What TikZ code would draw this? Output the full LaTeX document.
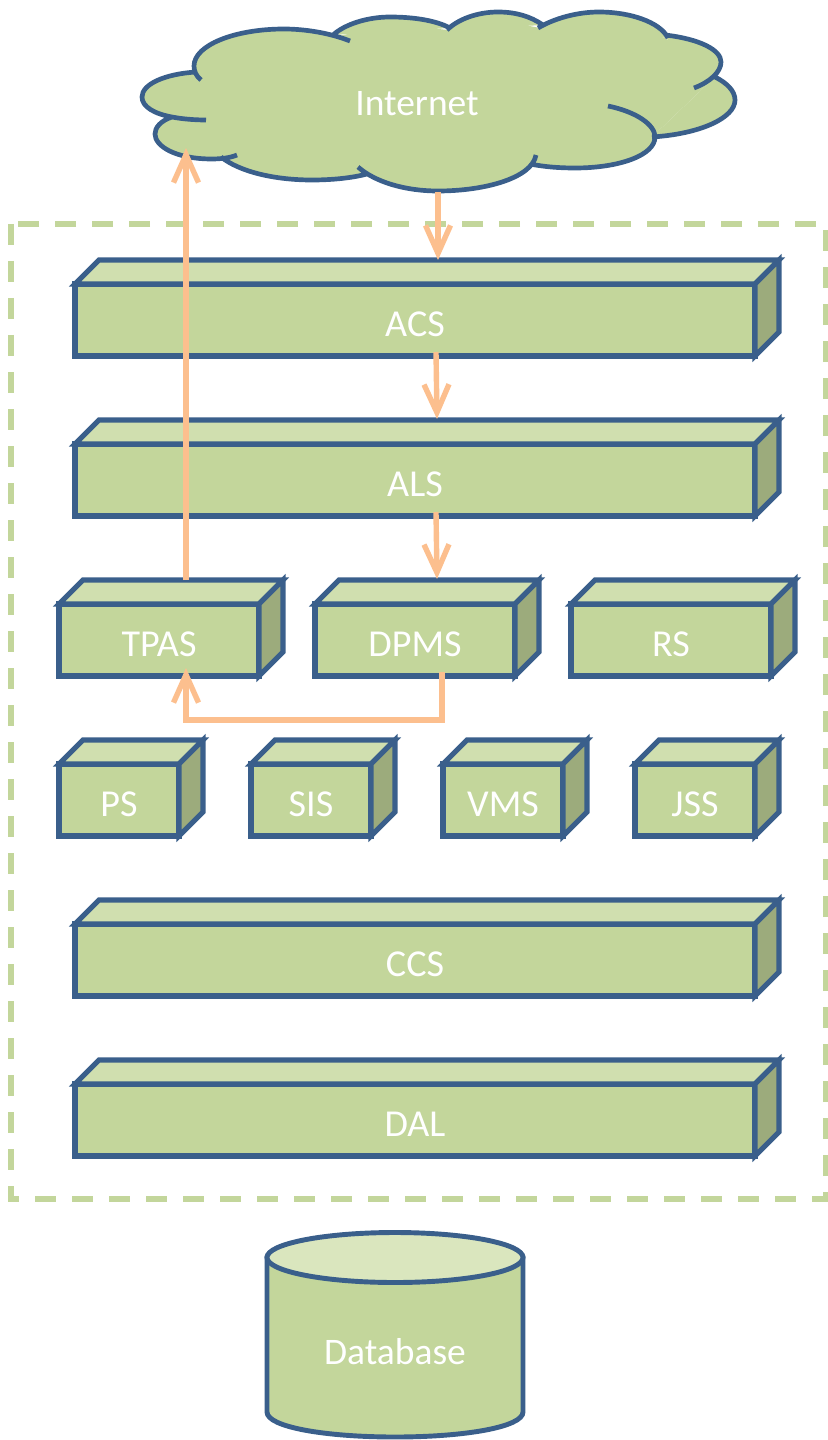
\documentclass[tikz,border=0pt]{standalone}
\usepackage{fontspec}
\setmainfont{Carlito}
\usepackage{tikz}
\usetikzlibrary{calc,arrows.meta,positioning}
\definecolor{cubeline}{HTML}{3A5F8B}
\definecolor{cubefront}{HTML}{C3D69B}
\definecolor{cubetopc}{HTML}{D0DFAF}
\definecolor{cubesidec}{HTML}{9CAB7C}
\definecolor{dbtopc}{HTML}{DAE6BE}
\definecolor{flowc}{HTML}{FCBF8E}
\tikzset{
	cubebox/.style={draw=cubeline,fill=cubefront,line width=4.3pt,rectangle,inner sep=0pt,outer sep=0pt,minimum height=72*0.03cm,text=white,text height=28pt,text depth=0pt,font=\fontsize{32.5}{32.5}\selectfont},
	cubetop/.style={draw=cubeline,fill=cubetopc,line width=4.3pt},
	cubeside/.style={draw=cubeline,fill=cubesidec,line width=4.3pt},
	bigtext/.style={text=white,inner sep=0pt,font=\fontsize{32}{32}\selectfont},
	flow/.style={draw=flowc,line width=4.6pt,-{Rectangle[length=0.1pt,width=0.1pt,sep=0pt] Straight Barb[length=8.4mm,width=7.5mm]}},
}
\begin{document}
\begin{tikzpicture}[x=0.03cm,y=-0.03cm]
	\useasboundingbox (0,0) rectangle (827,1440);
	
	% cloud
	\def\cloudlobes{
		(196,72) .. controls (165,74) and (142,84) .. (142,97) .. controls (142,107) and (155,114) .. (172,117) .. controls (182,119) and (195,120) .. (206,120)
		(172,117) .. controls (160,121) and (155,128) .. (155,134) .. controls (155,146) and (175,159) .. (212,159) .. controls (220,159) and (230,158) .. (237,155)
		(221,157) .. controls (240,172) and (275,180) .. (312,180) .. controls (332,180) and (352,178) .. (367,174)
		(358,167) .. controls (375,182) and (405,191) .. (438,191) .. controls (485,191) and (532,178) .. (536,155)
		(530,164) .. controls (545,167) and (560,168) .. (575,168) .. controls (620,168) and (655,155) .. (655,137) .. controls (655,125) and (637,112) .. (608,106)
		(652,137) .. controls (700,134) and (735,118) .. (735,100) .. controls (735,91) and (727,83) .. (715,77)
		(694,88) .. controls (710,82) and (721,72) .. (721,62) .. controls (721,50) and (700,39) .. (665,35)
		(668,38) .. controls (660,22) and (630,12) .. (599,12) .. controls (578,12) and (555,18) .. (538,28)
		(543,25) .. controls (530,16) and (515,12) .. (498,12) .. controls (478,12) and (458,19) .. (447,30)
		(450,28) .. controls (435,20) and (412,17) .. (390,17) .. controls (368,17) and (345,24) .. (333,35)
		(350,41) .. controls (330,33) and (305,29) .. (284,29) .. controls (235,29) and (194,45) .. (194,66) .. controls (194,71) and (196,76) .. (201,80)
	}
	\fill[cubefront] \cloudlobes;
	\fill[cubefront] (200,78) -- (172,117) -- (221,157) -- (312,172) -- (380,176) -- (438,185) -- (530,164) -- (652,137) -- (715,77) -- (665,38) -- (600,20) -- (540,28) -- (498,20) -- (448,30) -- (390,24) -- (335,37) -- (284,38) -- cycle;
	\draw[cubeline,line width=4pt] \cloudlobes;
	\node[bigtext] (internet) at (417,103.5) {Internet};
	\coordinate (cloudbottom) at (438,192);
	\coordinate (cloudleft) at (186,148);
	
	% dashed frame
	\draw[cubefront,line width=4.4pt,dash pattern=on 21*0.03cm off 16*0.03cm] (11,224) rectangle (826,1199);
	
	\foreach \name/\x/\y/\w/\txt in {acs/415/320/680/ACS,als/415/480/680/ALS,tpas/159/640/200/TPAS,dpms/415/640/200/DPMS,rs/671/640/200/RS,ps/119/800/120/PS,sis/311/800/120/SIS,vms/503/800/120/VMS,jss/695/800/120/JSS,ccs/415/960/680/CCS,dal/415/1120/680/DAL}
	{
		\node[cubebox,minimum width=\w*0.03cm] (\name) at (\x,\y) {\txt};
		\draw[cubetop] (\name.north west) --++(24,-24) --++(\w,0) -- (\name.north east) -- cycle;
		\draw[cubeside] (\name.north east) --++(24,-24) --++(0,72) -- (\name.south east) -- cycle;
		\coordinate (\name top) at ($(\name.north)+(0,-24)$);
	}
	
	% database
	\draw[cubeline,fill=cubefront,line width=4.2pt] (267,1258) -- (267,1412) .. controls (267,1427) and (325,1437) .. (395,1437) .. controls (465,1437) and (523,1427) .. (523,1412) -- (523,1258) -- cycle;
	\draw[cubeline,fill=dbtopc,line width=4.2pt] (395,1257.5) ellipse (128 and 25);
	\node[bigtext] (database) at (395,1352) {Database};
	
	% flows
	\draw[flow] (cloudbottom) -- (cloudbottom |- acstop);
	\draw[flow] ($(acs.south)+(21,-4)$) -- ($(alstop)+(22,-1)$);
	\draw[flow] ($(als.south)+(21,-4)$) -- ($(dpmstop)+(22,-1)$);
	\draw[flow] (cloudleft |- tpastop) -- (cloudleft);
	\coordinate (elbow) at (186,720);
	\draw[flow] ($(dpms.south)+(27,-4)$) |- (elbow) -- ($(tpas.south)+(27,-8)$);
\end{tikzpicture}
\end{document}
